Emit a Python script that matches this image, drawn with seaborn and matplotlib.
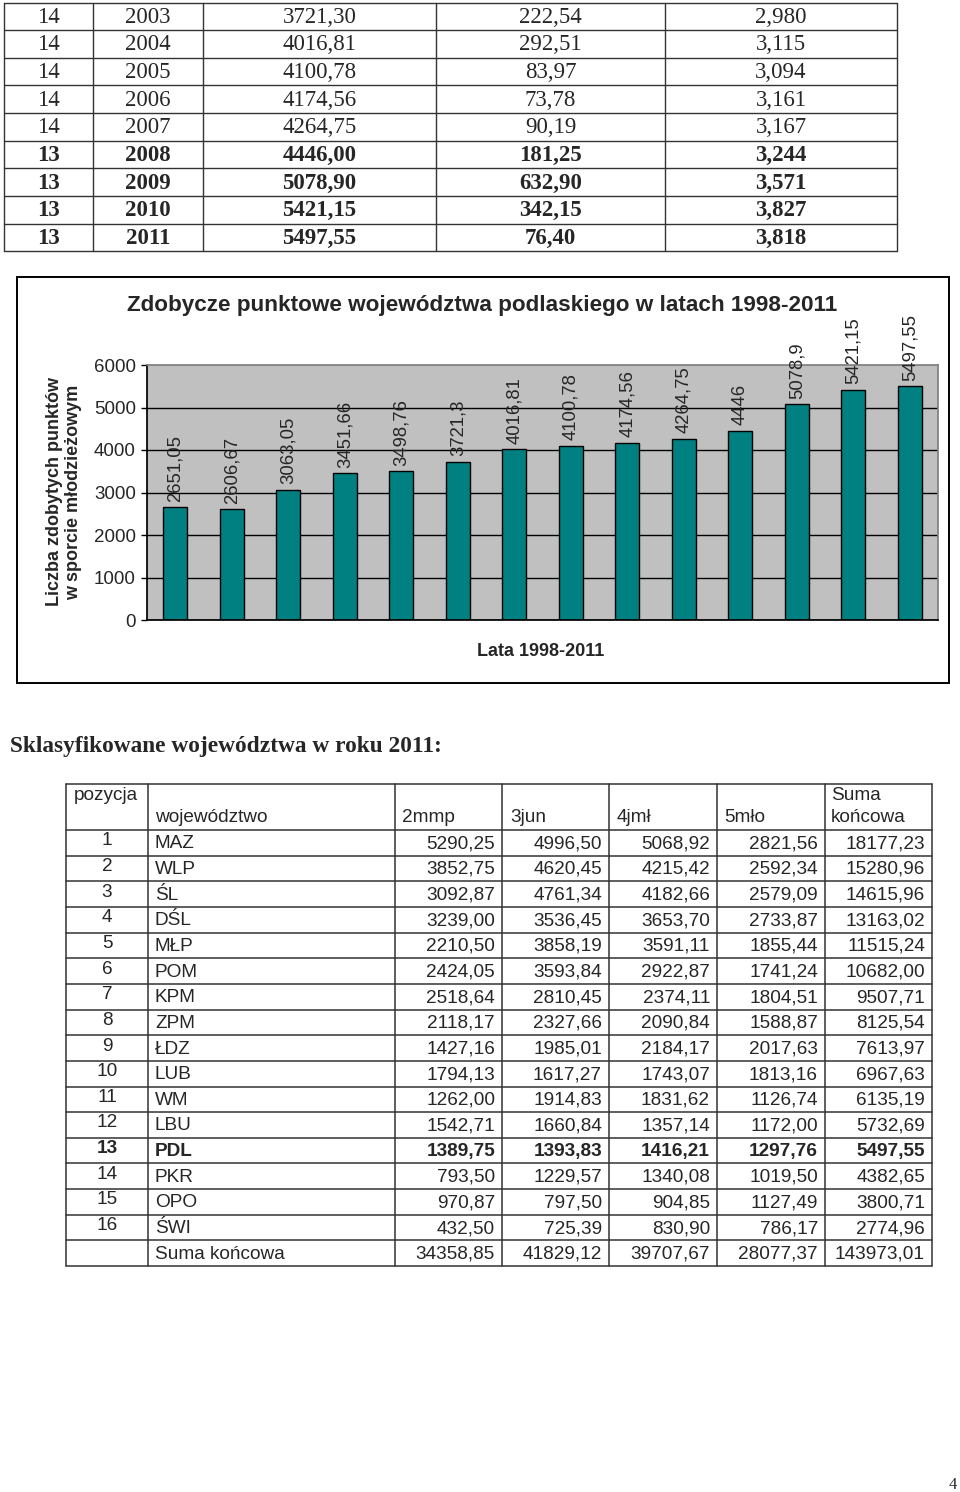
import matplotlib
matplotlib.use('Agg')
import matplotlib.pyplot as plt
from matplotlib.patches import Rectangle
import seaborn as sns
import pandas as pd

# top table (place, year, points, gain, index)
miejsce = [14, 14, 14, 14, 14, 13, 13, 13, 13]
rok = [2003, 2004, 2005, 2006, 2007, 2008, 2009, 2010, 2011]
punkty = [3721.30, 4016.81, 4100.78, 4174.56, 4264.75, 4446.00, 5078.90, 5421.15, 5497.55]
przyrost = [222.54, 292.51, 83.97, 73.78, 90.19, 181.25, 632.90, 342.15, 76.40]
wskaznik = [2.980, 3.115, 3.094, 3.161, 3.167, 3.244, 3.571, 3.827, 3.818]

# chart data
lata = [str(y) for y in range(1998, 2012)]
zdobycze = [2651.05, 2606.67, 3063.05, 3451.66, 3498.76, 3721.3, 4016.81,
            4100.78, 4174.56, 4264.75, 4446, 5078.9, 5421.15, 5497.55]

# bottom table
pozycja = list(range(1, 17))
wojewodztwa = ['MAZ', 'WLP', 'ŚL', 'DŚL', 'MŁP', 'POM', 'KPM', 'ZPM',
               'ŁDZ', 'LUB', 'WM', 'LBU', 'PDL', 'PKR', 'OPO', 'ŚWI']
mmp = [5290.25, 3852.75, 3092.87, 3239.00, 2210.50, 2424.05, 2518.64, 2118.17,
       1427.16, 1794.13, 1262.00, 1542.71, 1389.75, 793.50, 970.87, 432.50]
jun = [4996.50, 4620.45, 4761.34, 3536.45, 3858.19, 3593.84, 2810.45, 2327.66,
       1985.01, 1617.27, 1914.83, 1660.84, 1393.83, 1229.57, 797.50, 725.39]
jml = [5068.92, 4215.42, 4182.66, 3653.70, 3591.11, 2922.87, 2374.11, 2090.84,
       2184.17, 1743.07, 1831.62, 1357.14, 1416.21, 1340.08, 904.85, 830.90]
mlo = [2821.56, 2592.34, 2579.09, 2733.87, 1855.44, 1741.24, 1804.51, 1588.87,
       2017.63, 1813.16, 1126.74, 1172.00, 1297.76, 1019.50, 1127.49, 786.17]
suma = [18177.23, 15280.96, 14615.96, 13163.02, 11515.24, 10682.00, 9507.71, 8125.54,
        7613.97, 6967.63, 6135.19, 5732.69, 5497.55, 4382.65, 3800.71, 2774.96]
suma_kolumn = [34358.85, 41829.12, 39707.67, 28077.37, 143973.01]


def pl(v, d=2):
    return f"{v:.{d}f}".replace('.', ',')


sns.set_theme(style='white')
plt.rcParams['font.family'] = ['Liberation Sans', 'DejaVu Sans']

fig = plt.figure(figsize=(9.6, 14.92), dpi=100)
page = fig.add_axes([0, 0, 1, 1])
page.set_xlim(0, 960)
page.set_ylim(1492, 0)
page.axis('off')

serif = ['Liberation Serif', 'DejaVu Serif']

# ---- top table ----
cols_top = [4, 93, 203, 436, 665, 897]
row_top, rh_top = 2.5, 27.65
for i in range(len(rok) + 1):
    y = row_top + i * rh_top
    page.plot([cols_top[0], cols_top[-1]], [y, y], color='#333333', lw=1)
for x in cols_top:
    page.plot([x, x], [row_top, row_top + len(rok) * rh_top], color='#333333', lw=1)
for i in range(len(rok)):
    yc = row_top + (i + 0.5) * rh_top + 1
    w = 'bold' if rok[i] >= 2008 else 'normal'
    vals = [str(miejsce[i]), str(rok[i]), pl(punkty[i]), pl(przyrost[i]), pl(wskaznik[i], 3)]
    for j, v in enumerate(vals):
        xc = (cols_top[j] + cols_top[j + 1]) / 2
        page.text(xc, yc, v, ha='center', va='center', fontsize=16.5,
                  family=serif, fontweight=w)

# ---- chart ----
page.add_patch(Rectangle((17, 277), 932, 406, fill=False, ec='black', lw=1.4))
ax = fig.add_axes([147 / 960, (1492 - 620) / 1492, 791 / 960, 255 / 1492])
df = pd.DataFrame({'rok': lata, 'punkty': zdobycze})
sns.barplot(data=df, x='rok', y='punkty', color='#008080', edgecolor='black',
            linewidth=1, width=0.42, saturation=1, ax=ax)
ax.set_facecolor('#C0C0C0')
ax.set_ylim(0, 6000)
ax.set_yticks(range(0, 7000, 1000))
ax.set_axisbelow(True)
ax.yaxis.grid(True, color='black', lw=1)
ax.get_ygridlines()[-1].set_visible(False)
ax.tick_params(axis='y', left=True, length=4, width=1, color='black',
               labelsize=13.5, pad=4)
ax.tick_params(axis='x', bottom=False, labelbottom=False)
for s in ['top', 'right']:
    ax.spines[s].set_color('#808080')
for s in ['left', 'bottom']:
    ax.spines[s].set_color('black')
ax.set_xlabel('')
ax.set_ylabel('')
ax.bar_label(ax.containers[0], labels=[f"{v:g}".replace('.', ',') for v in zdobycze],
             rotation=90, padding=4, fontsize=13.3)

page.text(482, 305, 'Zdobycze punktowe województwa podlaskiego w latach 1998-2011',
          ha='center', va='center', fontsize=16.2, fontweight='bold')
page.text(64, 492, 'Liczba zdobytych punktów\nw sporcie młodzieżowym', rotation=90,
          ha='center', va='center', fontsize=13, fontweight='bold',
          multialignment='center', linespacing=1.15)
page.text(541, 651, 'Lata 1998-2011', ha='center', va='center',
          fontsize=13, fontweight='bold')

# ---- heading ----
page.text(10, 752, 'Sklasyfikowane województwa w roku 2011:', ha='left',
          va='baseline', fontsize=16.8, fontweight='bold', family=serif)

# ---- bottom table ----
cols_b = [66, 148, 395, 502, 609, 717, 825, 932]
head_top, head_bot = 784, 830
rh = 25.65
n_rows = len(pozycja) + 1
for y in [head_top] + [head_bot + i * rh for i in range(n_rows + 1)]:
    page.plot([cols_b[0], cols_b[-1]], [y, y], color='#333333', lw=1.1)
for x in cols_b:
    page.plot([x, x], [head_top, head_bot + n_rows * rh], color='#333333', lw=1.1)

fs = 13.7
page.text(74, 796, 'pozycja', ha='left', va='center', fontsize=fs)
for x, t in zip([155, 402, 510, 617, 724], ['województwo', '2mmp', '3jun', '4jmł', '5mło']):
    page.text(x, 818, t, ha='left', va='center', fontsize=fs)
page.text(831, 796, 'Suma', ha='left', va='center', fontsize=fs)
page.text(831, 818, 'końcowa', ha='left', va='center', fontsize=fs)

for i in range(len(pozycja)):
    yc = head_bot + (i + 0.5) * rh
    w = 'bold' if wojewodztwa[i] == 'PDL' else 'normal'
    page.text(107, yc - 2, str(pozycja[i]), ha='center', va='center', fontsize=fs, fontweight=w)
    page.text(155, yc + 1, wojewodztwa[i], ha='left', va='center', fontsize=fs, fontweight=w)
    for j, v in enumerate([mmp[i], jun[i], jml[i], mlo[i], suma[i]]):
        page.text(cols_b[j + 3] - 7, yc + 1, pl(v), ha='right', va='center',
                  fontsize=fs, fontweight=w)
yc = head_bot + (n_rows - 0.5) * rh
page.text(155, yc + 1, 'Suma końcowa', ha='left', va='center', fontsize=fs)
for j, v in enumerate(suma_kolumn):
    page.text(cols_b[j + 3] - 7, yc + 1, pl(v), ha='right', va='center', fontsize=fs)

page.text(957, 1489, '4', ha='right', va='baseline', fontsize=12, family=serif)

fig.savefig('out.png', dpi=100)
